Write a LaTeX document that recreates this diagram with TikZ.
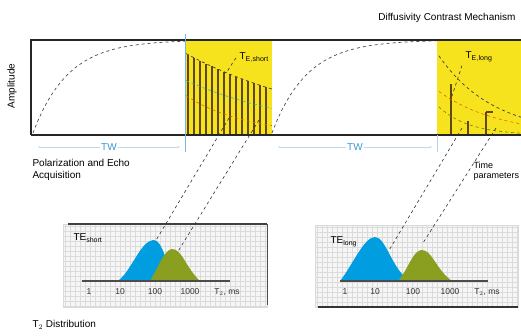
\documentclass[tikz,border=0pt]{standalone}
\usepackage{fontspec}
\setmainfont{Liberation Sans}
\usetikzlibrary{arrows.meta, positioning, calc}
\definecolor{echoyellow}{RGB}{247,226,30}
\definecolor{echobrown}{RGB}{95,72,20}
\definecolor{peakblue}{RGB}{0,158,224}
\definecolor{peakgreen}{RGB}{138,158,32}
\definecolor{twblue}{RGB}{60,150,210}

\begin{document}
\begin{tikzpicture}[
    x=1pt, y=-1pt,
    every node/.style={font=\fontsize{10}{11.5}\selectfont},
    % Box styles
    framebox/.style={draw=black!85, line width=1.3pt},
    yellowbox/.style={fill=echoyellow, draw=none},
    gridpanel/.style={fill=gray!7, draw=gray!30, line width=0.4pt},
    gridline/.style={draw=gray!28, line width=0.3pt},
    % Curve styles
    recovery/.style={dashed, black!70, line width=0.7pt},
    envelope/.style={dashed, black!75, line width=0.7pt},
    echobar/.style={draw=echobrown, line width=1.1pt},
    leader/.style={dashed, black!80, line width=0.6pt},
    linkline/.style={dashed, black!80, line width=0.6pt},
    twarr/.style={{Stealth[length=2.5pt]}-{Stealth[length=2.5pt]}, twblue!35, line width=0.3pt},
    ticklab/.style={font=\fontsize{8.5}{10}\selectfont, text=black!80},
    baseline/.style={draw=black!70, line width=1.6pt}
  ]

  \useasboundingbox (0,0) rectangle (521,336);

  % ============ Title and axis label ============
  \node[anchor=east] (title) at (519,18) {Diffusivity Contrast Mechanism};
  \node[rotate=90] (amp) at (12,86) {Amplitude};

  % ============ Echo windows (yellow) ============
  \fill[yellowbox] (185,40) rectangle (272,135);
  \fill[yellowbox] (437,40) rectangle (525,135);

  % ============ Polarization curves ============
  \draw[recovery] plot[domain=33:185, samples=60] (\x, {133-93*(1-exp(-(\x-33)/35))});
  \draw[recovery] plot[domain=272:437, samples=60] (\x, {133-93*(1-exp(-(\x-272)/35))});

  % ============ Short echo train ============
  \foreach \i [evaluate=\i as \xx using 188+6*\i] in {0,...,13}
    \draw[echobar] (\xx,135) -- (\xx,{135-82*exp(-(\xx-185)/150)});
  \draw[envelope] plot[domain=186:272, samples=40] (\x, {135-82*exp(-(\x-185)/150)});
  \draw[dashed, peakblue!80, line width=0.6pt] plot[domain=186:272, samples=30] (\x, {135-55*exp(-(\x-185)/120)});
  \draw[dashed, orange!85!black, line width=0.6pt] plot[domain=186:272, samples=30] (\x, {135-40*exp(-(\x-185)/60)});

  % ============ Long echo train ============
  \draw[echobar] (451,135) -- (451,84);
  \draw[echobar] (468,135) -- (468,121);
  \draw[echobar] (486,135) -- (486,112);
  \draw[echobar] (486,112) -- (493,112);
  \draw[envelope] plot[domain=439:521, samples=40] (\x, {135-82*exp(-(\x-437)/55)});
  \draw[dashed, orange!85!black, line width=0.6pt] plot[domain=439:521, samples=30] (\x, {135-45*exp(-(\x-437)/60)});
  \draw[dashed, peakgreen!80!black, line width=0.6pt] plot[domain=439:521, samples=30] (\x, {135-30*exp(-(\x-437)/30)});

  % ============ Main frame ============
  \draw[framebox] (31,135) -- (31,40) -- (525,40);
  \draw[framebox] (31,135) -- (525,135);
  \draw[twblue!70, line width=0.5pt] (185,34) -- (185,152);
  \draw[twblue!40, line width=0.4pt] (437,135) -- (437,152);

  % ============ Window labels ============
  \node[anchor=west] (tshort) at (236,58) {T$_{\mathrm{E,short}}$};
  \node[anchor=west] (tlong) at (462,57) {T$_{\mathrm{E,long}}$};
  \coordinate (shortenv) at (224,74);
  \coordinate (longenv) at (452,96);
  \draw[leader] (tshort.west) .. controls (232,62) and (230,70) .. (shortenv);
  \draw[leader] (tlong.south west) -- (longenv);

  % ============ Wait times ============
  \coordinate (tw1a) at (38,147);
  \coordinate (tw1b) at (180,147);
  \coordinate (tw2a) at (278,147);
  \coordinate (tw2b) at (432,147);
  \draw[twarr] (tw1a) -- (tw1b) node[midway, fill=white, inner sep=1pt, text=twblue] (tw1) {TW};
  \draw[twarr] (tw2a) -- (tw2b) node[midway, fill=white, inner sep=1pt, text=twblue] (tw2) {TW};

  \node[anchor=north west, align=left] (polar) at (29,156) {Polarization and Echo\\Acquisition};
  \node[anchor=north west, align=left, font=\fontsize{9}{10.5}\selectfont] (timepar) at (470,158) {Time\\parameters};

  % ============ Distribution panels ============
  \filldraw[gridpanel] (63,224) rectangle (267,307);
  \foreach \gx in {65,70,...,265} \draw[gridline] (\gx,224) -- (\gx,307);
  \foreach \gy in {226,231,...,306} \draw[gridline] (63,\gy) -- (267,\gy);
  \draw[black!75, line width=1.3pt] (68,224) -- (267,224);
  \draw[black!70, line width=0.6pt] (267,224) -- (267,305);

  \filldraw[gridpanel] (315,225) rectangle (518,307);
  \foreach \gx in {317,322,...,517} \draw[gridline] (\gx,225) -- (\gx,307);
  \foreach \gy in {227,232,...,306} \draw[gridline] (315,\gy) -- (518,\gy);
  \draw[black!80, line width=1.3pt] (318,307) -- (518,307);

  % short spacing peaks
  \fill[peakblue] (118,281) .. controls (132,270) and (140,242) .. (153,240)
    .. controls (162,239) and (166,262) .. (174,281) -- cycle;
  \fill[peakgreen] (150,281) .. controls (158,268) and (164,250) .. (172,249)
    .. controls (182,249) and (186,268) .. (200,281) -- cycle;
  % long spacing peaks
  \fill[peakblue] (340,281) .. controls (352,266) and (364,237) .. (375,237)
    .. controls (386,237) and (392,270) .. (410,281) -- cycle;
  \fill[peakgreen] (398,281) .. controls (408,270) and (412,252) .. (421,250)
    .. controls (432,249) and (436,270) .. (452,281) -- cycle;

  \draw[baseline] (82,281) -- (230,281);
  \draw[baseline] (340,281) -- (488,281);

  \node[anchor=west] (labshort) at (70,238) {TE$_{\mathrm{short}}$};
  \node[anchor=west] (lablong) at (327,242) {TE$_{\mathrm{long}}$};

  \foreach \tx/\tl [count=\n] in {89/1, 120/10, 155/100, 190/1000, 227/{T$_2$, ms}}
    \node[ticklab] (lt\n) at (\tx,292) {\tl};
  \foreach \tx/\tl [count=\n] in {345/1, 375/10, 413/100, 450/1000, 487/{T$_2$, ms}}
    \node[ticklab] (rt\n) at (\tx,292) {\tl};

  \node[anchor=west] (dist) at (29,325) {T$_2$ Distribution};

  % ============ Links from echoes to peaks ============
  \coordinate (se1) at (229,118);
  \coordinate (se2) at (259,120);
  \coordinate (le1) at (462,128);
  \coordinate (le2) at (496,128);
  \coordinate (sp1) at (155,242);
  \coordinate (sp2) at (177,253);
  \coordinate (lp1) at (388,252);
  \coordinate (lp2) at (423,243);
  \draw[linkline] (se1) -- (sp1);
  \draw[linkline] (se2) -- (sp2);
  \draw[linkline] (le1) -- (lp1);
  \draw[linkline] (le2) -- (lp2);

\end{tikzpicture}
\end{document}
